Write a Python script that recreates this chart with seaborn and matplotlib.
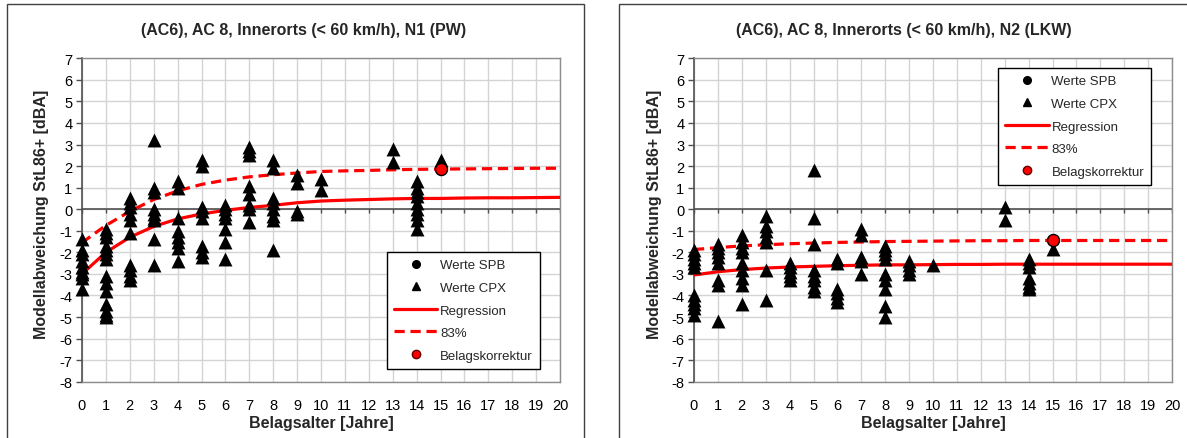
import matplotlib
matplotlib.use("Agg")
import matplotlib.pyplot as plt
import seaborn as sns
import pandas as pd
from matplotlib.lines import Line2D
from matplotlib.patches import Rectangle

sns.set_theme(style="white")
plt.rcParams['font.family'] = ['Liberation Sans', 'DejaVu Sans']
plt.rcParams['axes.unicode_minus'] = False

# ---------------- data ----------------
years = list(range(21))

titles = ["(AC6), AC 8, Innerorts (< 60 km/h), N1 (PW)",
          "(AC6), AC 8, Innerorts (< 60 km/h), N2 (LKW)"]
x_label = "Belagsalter [Jahre]"
y_label = "Modellabweichung StL86+ [dBA]"
legend_labels = ["Werte SPB", "Werte CPX", "Regression", "83%", "Belagskorrektur"]

# N1 (PW) – CPX measured values per pavement age
n1_cpx = {
    0: [-1.4, -1.9, -2.1, -2.4, -2.7, -2.9, -3.0, -3.2, -3.7],
    1: [-0.9, -1.1, -1.3, -1.7, -1.9, -2.1, -2.3, -3.1, -3.4, -3.8, -4.4, -4.7, -4.9, -5.0],
    2: [0.5, 0.3, 0.1, -0.2, -0.5, -1.1, -2.6, -2.8, -3.1, -3.3],
    3: [3.2, 1.0, 0.8, 0.0, -0.2, -0.4, -0.5, -1.4, -2.6],
    4: [1.3, 1.0, -0.4, -1.0, -1.3, -1.5, -1.8, -2.4],
    5: [2.3, 2.0, 0.1, -0.1, -0.4, -1.7, -2.0, -2.2],
    6: [0.2, 0.0, -0.2, -0.4, -0.9, -1.5, -2.3],
    7: [2.9, 2.7, 2.5, 1.1, 0.7, 0.2, 0.0, -0.6],
    8: [2.3, 1.9, 0.5, 0.3, 0.0, -0.3, -0.5, -1.9],
    9: [1.6, 1.2, -0.1, -0.2],
    10: [1.4, 0.9],
    13: [2.8, 2.2],
    14: [1.3, 1.0, 0.8, 0.6, 0.3, 0.0, -0.2, -0.5, -0.9],
    15: [2.3],
}
n1_reg = [-3.0, -2.0, -1.3, -0.8, -0.45, -0.22, -0.05, 0.08, 0.18, 0.3, 0.38,
          0.42, 0.45, 0.48, 0.5, 0.5, 0.52, 0.53, 0.53, 0.54, 0.55]
n1_p83 = [-1.55, -0.75, -0.1, 0.45, 0.85, 1.15, 1.35, 1.5, 1.6, 1.68, 1.75,
          1.78, 1.8, 1.83, 1.85, 1.86, 1.87, 1.88, 1.89, 1.9, 1.9]
n1_korr_x = [15]
n1_korr_y = [1.85]

# N2 (LKW)
n2_cpx = {
    0: [-1.9, -2.1, -2.3, -2.5, -2.7, -4.0, -4.2, -4.4, -4.6, -4.9],
    1: [-1.6, -1.8, -2.0, -2.2, -2.5, -3.3, -3.5, -5.2],
    2: [-1.2, -1.5, -1.8, -2.0, -2.5, -2.8, -3.2, -3.5, -4.4],
    3: [-0.3, -0.8, -1.0, -1.3, -1.5, -2.8, -4.2],
    4: [-2.5, -2.7, -2.9, -3.1, -3.3],
    5: [1.8, -0.4, -1.6, -2.8, -3.1, -3.3, -3.6, -3.8],
    6: [-2.3, -2.5, -3.7, -3.9, -4.1, -4.3],
    7: [-0.9, -1.2, -2.2, -2.4, -3.0],
    8: [-1.7, -1.9, -2.1, -2.3, -3.0, -3.3, -3.7, -4.5, -5.0],
    9: [-2.4, -2.6, -2.8, -3.0],
    10: [-2.6],
    13: [0.1, -0.5],
    14: [-2.3, -2.5, -2.7, -3.2, -3.4, -3.6, -3.7],
    15: [-1.85],
}
n2_reg = [-3.05, -2.9, -2.8, -2.73, -2.68, -2.65, -2.62, -2.6, -2.58, -2.58, -2.57,
          -2.56, -2.56, -2.55, -2.55, -2.55, -2.55, -2.55, -2.55, -2.55, -2.55]
n2_p83 = [-1.87, -1.78, -1.7, -1.65, -1.6, -1.57, -1.54, -1.52, -1.5, -1.49, -1.48,
          -1.47, -1.46, -1.46, -1.45, -1.45, -1.45, -1.45, -1.45, -1.45, -1.45]
n2_korr_x = [15]
n2_korr_y = [-1.45]

# ---------------- figure ----------------
W, H = 1187, 439
fig = plt.figure(figsize=(W / 100, H / 100), dpi=100)
fig.patch.set_facecolor("white")


def fx(px):
    return px / W


def fy(py):
    return 1 - py / H


# outer chart frames
for (x0, x1) in [(7, 584), (619, 1195)]:
    fig.add_artist(Rectangle((fx(x0), fy(450)), fx(x1 - x0), (450 - 4.6) / H,
                             transform=fig.transFigure, fill=False,
                             edgecolor="#404040", lw=1.0, zorder=0))


def panel(ax_px, cpx, reg, p83, kx, ky, title, title_x, ylab_x, leg_px):
    x0, x1, yt, yb = ax_px
    ax = fig.add_axes([fx(x0), fy(yb), fx(x1 - x0), (yb - yt) / H])
    ax.set_xlim(0, 20)
    ax.set_ylim(-8, 7)
    ax.set_xticks(range(0, 21))
    ax.set_yticks(range(-8, 8))
    ax.grid(True, color="#d4d4d4", lw=1.0, zorder=0)
    ax.set_axisbelow(True)

    # horizontal axis crossing at 0 with small tick marks
    ax.axhline(0, color="#505050", lw=1.2, zorder=1)
    ax.vlines(years, -0.19, 0, color="#505050", lw=1.0, zorder=1)

    df = pd.DataFrame([(k, v) for k, vals in cpx.items() for v in vals],
                      columns=["Belagsalter", "Abweichung"])
    sns.scatterplot(data=df, x="Belagsalter", y="Abweichung", marker="^", s=100,
                    color="black", edgecolor="black", linewidth=0, ax=ax,
                    legend=False, zorder=4, clip_on=False)
    sns.lineplot(x=years, y=p83, color="red", lw=2.3, ax=ax, zorder=3,
                 dashes=False, linestyle=(0, (3.2, 1.8)))
    sns.lineplot(x=years, y=reg, color="red", lw=2.3, ax=ax, zorder=3)
    sns.scatterplot(x=kx, y=ky, color="red", edgecolor="black", s=75,
                    linewidth=1.0, ax=ax, zorder=5, legend=False, clip_on=False)

    ax.set_xlim(0, 20)
    ax.set_ylim(-8, 7)
    ax.set_xlabel("")
    ax.set_ylabel("")
    for side in ["top", "right", "bottom"]:
        ax.spines[side].set_color("#8c8c8c")
        ax.spines[side].set_linewidth(1.0)
    ax.spines["left"].set_color("#505050")
    ax.spines["left"].set_linewidth(1.2)
    for sp in ax.spines.values():
        sp.set_zorder(2)
    ax.tick_params(axis="y", which="both", left=True, direction="out", length=4,
                   width=1, color="#505050", labelsize=10.5, pad=3,
                   labelcolor="black")
    ax.tick_params(axis="x", which="both", bottom=False, labelsize=10.5, pad=6,
                   labelcolor="black")

    fig.text(fx(title_x), fy(30.5), title, ha="center", va="center",
             fontsize=11.5, fontweight="bold")
    fig.text(fx((x0 + x1) / 2), fy(424), x_label, ha="center", va="center",
             fontsize=11.5, fontweight="bold")
    fig.text(fx(ylab_x), fy(214), y_label, ha="center", va="center",
             rotation=90, fontsize=11.5, fontweight="bold")

    handles = [
        Line2D([], [], marker="o", color="black", ls="none", markersize=5.5),
        Line2D([], [], marker="^", color="black", ls="none", markersize=6),
        Line2D([], [], color="red", lw=2.3),
        Line2D([], [], color="red", lw=2.3, linestyle=(0, (3.2, 1.8))),
        Line2D([], [], marker="o", color="red", mec="#600000", ls="none",
               markersize=6),
    ]
    leg = fig.legend(handles, legend_labels, loc="upper left",
                     bbox_to_anchor=(fx(leg_px[0]), fy(leg_px[1])),
                     bbox_transform=fig.transFigure, borderaxespad=0,
                     fontsize=9.5, frameon=True, fancybox=False,
                     edgecolor="black", framealpha=1, handlelength=3.3,
                     handletextpad=0.2, labelspacing=0.78, borderpad=0.55)
    leg.get_frame().set_linewidth(1.0)
    return ax


panel((82, 560, 59.3, 382.7), n1_cpx, n1_reg, n1_p83, n1_korr_x, n1_korr_y,
      titles[0], 304, 42, (386.7, 253))
panel((694, 1172, 59.3, 382.7), n2_cpx, n2_reg, n2_p83, n2_korr_x, n2_korr_y,
      titles[1], 904, 655, (998, 69))

fig.savefig("out.png", dpi=100, facecolor="white")
